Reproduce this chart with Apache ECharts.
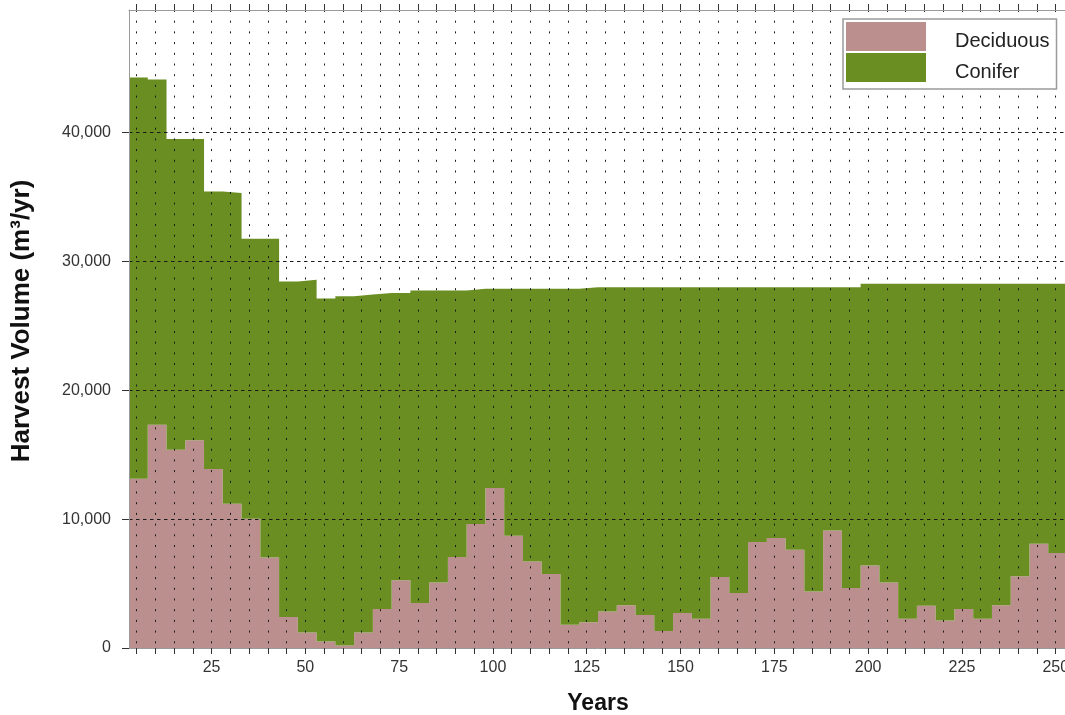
<!DOCTYPE html>
<html>
<head>
<meta charset="utf-8">
<title>Harvest Volume</title>
<script src="https://cdn.jsdelivr.net/npm/echarts@6/dist/echarts.min.js"></script>
<style>
  html, body { margin: 0; padding: 0; background: #ffffff; }
  #chart { width: 1065px; height: 715px; }
</style>
</head>
<body>
<div id="chart"></div>
<script>
// First year of each 5-year harvest period; the last period ends at periodEnd.
const periodStart = [
  3, 8, 13, 18, 23, 28, 33, 38, 43, 48,
  53, 58, 63, 68, 73, 78, 83, 88, 93, 98,
  103, 108, 113, 118, 123, 128, 133, 138, 143, 148,
  153, 158, 163, 168, 173, 178, 183, 188, 193, 198,
  203, 208, 213, 218, 223, 228, 233, 238, 243, 248
];
const periodEnd = 253;

// Annual harvest volume per period (m3/yr)
const deciduous = [
  13130, 17320, 15380, 16110, 13890, 11190, 10030, 7030, 2400, 1210,
  510, 200, 1210, 3020, 5250, 3490, 5090, 7060, 9620, 12410,
  8710, 6720, 5740, 1810, 1990, 2840, 3310, 2560, 1320, 2720,
  2270, 5510, 4270, 8220, 8530, 7630, 4390, 9120, 4650, 6410,
  5090, 2270, 3280, 2140, 3020, 2270, 3310, 5560, 8090, 7370
];
const conifer = [
  31140, 26780, 24120, 23390, 21530, 24110, 21720, 24720, 26040, 27360,
  26600, 27100, 26210, 24530, 22300, 24240, 22640, 20670, 18250, 15460,
  19160, 21150, 22130, 26060, 25990, 25140, 24670, 25420, 26660, 25260,
  25710, 22470, 23710, 19760, 19450, 20350, 23590, 18860, 23330, 21860,
  23180, 26000, 24990, 26130, 25250, 26000, 24960, 22710, 20180, 20900
];

// Axis ticks and labels
const xTickYears = [
  5, 10, 15, 20, 25, 30, 35, 40, 45, 50, 55, 60, 65, 70, 75, 80, 85, 90, 95, 100,
  105, 110, 115, 120, 125, 130, 135, 140, 145, 150, 155, 160, 165, 170, 175, 180,
  185, 190, 195, 200, 205, 210, 215, 220, 225, 230, 235, 240, 245, 250
];
const xLabelYears = [25, 50, 75, 100, 125, 150, 175, 200, 225, 250];
const yTickValues = [0, 10000, 20000, 30000, 40000];

const colors = { deciduous: '#bc8f8f', conifer: '#6b8e23' };
const FONT = '"Liberation Sans", Arial, sans-serif';

// Each period's value is held from its start year to the next start year.
// Rows are [volume, year] so that the stack is applied to the volume.
function stepRows(values) {
  const rows = periodStart.map((year, i) => [values[i], year]);
  rows.push([values[values.length - 1], periodEnd]);
  return rows;
}

function areaSeries(name, values, color) {
  return {
    name: name,
    type: 'line',
    step: 'end',
    stack: 'volume',
    z: 2,
    dimensions: ['volume', 'year'],
    encode: { x: 'year', y: 'volume' },
    data: stepRows(values),
    symbol: 'none',
    showSymbol: false,
    silent: true,
    lineStyle: { width: 0, color: color },
    itemStyle: { color: color },
    areaStyle: { color: color, opacity: 1 },
    emphasis: { disabled: true }
  };
}

const chart = echarts.init(document.getElementById('chart'), null, { renderer: 'canvas' });

chart.setOption({
  animation: false,
  backgroundColor: '#ffffff',
  textStyle: { fontFamily: FONT },
  grid: { left: 129, top: 10, right: -2, bottom: 67, outerBoundsMode: 'none', containLabel: false },
  legend: {
    orient: 'vertical',
    left: 843,
    top: 19,
    z: 20,
    icon: 'rect',
    itemWidth: 80,
    itemHeight: 29,
    itemGap: 2,
    padding: [3, 7, 7, 3],
    backgroundColor: '#ffffff',
    borderColor: '#9a9a9a',
    borderWidth: 1.5,
    selectedMode: false,
    formatter: name => '{t|' + name + '}',
    textStyle: {
      fontFamily: FONT,
      fontSize: 20,
      color: '#222222',
      rich: { t: { fontFamily: FONT, fontSize: 20, lineHeight: 20, color: '#222222', padding: [9, 0, 0, 24] } }
    },
    data: ['Deciduous', 'Conifer']
  },
  xAxis: [
    {
      type: 'value',
      position: 'bottom',
      min: 3,
      max: periodEnd,
      z: 10,
      axisLine: { show: true, lineStyle: { color: '#9a9a9a', width: 1 } },
      axisTick: { show: true, customValues: xTickYears, length: 6, lineStyle: { color: '#333333' } },
      axisLabel: { customValues: xLabelYears, fontSize: 16, color: '#333333', margin: 12, fontFamily: FONT },
      splitLine: { show: true, lineStyle: { color: '#1a1a1a', width: 1, type: [2, 8.7] } },
      name: 'Years',
      nameLocation: 'middle',
      nameGap: 44,
      nameTextStyle: { fontSize: 23, fontWeight: 'bold', color: '#111111', fontFamily: FONT }
    },
    {
      type: 'value',
      position: 'top',
      min: 3,
      max: periodEnd,
      z: 10,
      axisLine: { show: true, lineStyle: { color: '#9a9a9a', width: 1 } },
      axisTick: { show: true, customValues: xTickYears, length: 6, lineStyle: { color: '#333333' } },
      axisLabel: { show: false },
      splitLine: { show: false }
    }
  ],
  yAxis: {
    type: 'value',
    min: 0,
    max: 49500,
    z: 10,
    axisLine: { show: true, lineStyle: { color: '#9a9a9a', width: 1 } },
    axisTick: { show: true, customValues: yTickValues, length: 7, lineStyle: { color: '#333333' } },
    axisLabel: {
      customValues: yTickValues,
      fontSize: 16,
      color: '#333333',
      margin: 18,
      fontFamily: FONT,
      formatter: v => v.toLocaleString('en-US')
    },
    splitLine: { show: true, lineStyle: { color: '#1a1a1a', width: 1, type: [3.5, 3.5] } },
    name: 'Harvest Volume (m³/yr)',
    nameLocation: 'middle',
    nameGap: 94,
    nameTextStyle: { fontSize: 26, fontWeight: 'bold', color: '#111111', fontFamily: FONT, padding: [0, 0, 0, 16] }
  },
  series: [
    areaSeries('Deciduous', deciduous, colors.deciduous),
    areaSeries('Conifer', conifer, colors.conifer)
  ]
});
</script>
</body>
</html>
